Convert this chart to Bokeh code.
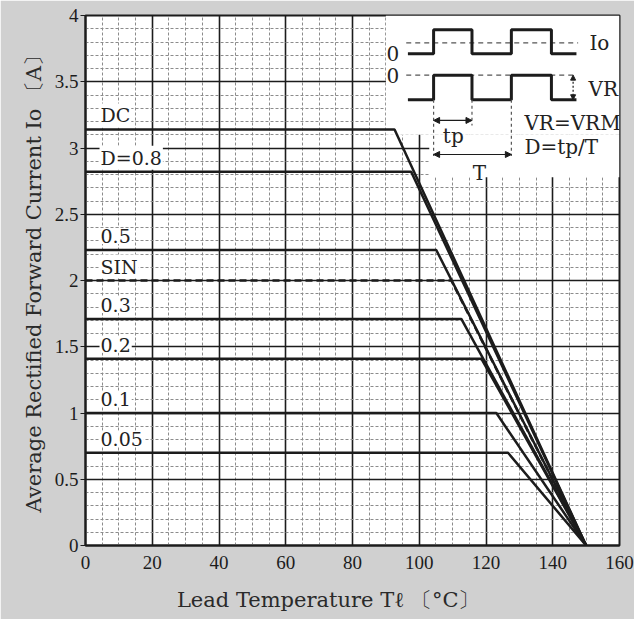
from bokeh.plotting import figure
from bokeh.models import FixedTicker, NumeralTickFormatter, Label, Arrow, NormalHead, Range1d
from bokeh.embed import file_html
from bokeh.resources import INLINE

# ---- data ----
series_names = ["DC", "D=0.8", "0.5", "SIN", "0.3", "0.2", "0.1", "0.05"]
levels = [3.14, 2.82, 2.23, 2.00, 1.71, 1.41, 1.00, 0.70]       # Io [A] plateau
knee_temps = [92.6, 97.6, 105.1, 109.6, 112.6, 118.6, 123.1, 126.6]  # Tl [C] where derating starts
t_zero = 150.0                                                    # Tl where Io reaches 0
x_ticks = [0, 20, 40, 60, 80, 100, 120, 140, 160]
y_ticks = [0, 0.5, 1, 1.5, 2, 2.5, 3, 3.5, 4]
x_minor = list(range(0, 161, 5))
y_minor = [i / 10 for i in range(41)]

INK = "#1c1c1c"
SERIF = "DejaVu Serif"

p = figure(width=634, height=619, x_range=Range1d(0, 160), y_range=Range1d(0, 4),
           output_backend="svg", toolbar_location=None,
           min_border_left=85, min_border_right=15, min_border_top=15, min_border_bottom=74)
p.border_fill_color = "#d0d0d0"
p.background_fill_color = "white"
p.outline_line_color = INK
p.outline_line_width = 2

xt = FixedTicker(ticks=x_ticks, minor_ticks=x_minor)
yt = FixedTicker(ticks=y_ticks, minor_ticks=y_minor)
p.xaxis.ticker = xt
p.yaxis.ticker = yt
p.xgrid.ticker = xt
p.ygrid.ticker = yt
for g in (p.xgrid, p.ygrid):
    g.grid_line_color = INK
    g.grid_line_width = 1.6
    g.minor_grid_line_color = "#8c8c8c"
    g.minor_grid_line_dash = "3 2"
    g.minor_grid_line_width = 1

p.yaxis.formatter = NumeralTickFormatter(format="0.[0]")
for ax in (p.xaxis, p.yaxis):
    ax.axis_line_color = INK
    ax.axis_line_width = 2
    ax.minor_tick_line_color = None
    ax.major_label_text_font = "Liberation Serif"
    ax.major_label_text_font_size = "19px"
    ax.major_label_text_color = INK
    ax.axis_label_text_font = SERIF
    ax.axis_label_text_font_style = "normal"
    ax.axis_label_text_font_size = "21px"
    ax.axis_label_text_color = "#2a2a2a"
p.xaxis.major_tick_line_color = None
p.xaxis.major_label_standoff = 4
p.xaxis.axis_label_standoff = 16
p.yaxis.major_tick_out = 5
p.yaxis.major_tick_in = 0
p.yaxis.major_tick_line_color = INK
p.yaxis.major_label_standoff = 2
p.yaxis.axis_label_standoff = 6
p.xaxis.axis_label = "Lead Temperature  T\u2113 \u3014\u00b0C\u3015\u2003\u2003"
p.yaxis.axis_label = "\u2002Average Rectified Forward Current  Io \u3014A\u3015"

# ---- inset background (covers the grid) ----
p.quad(left=[90, 103], right=[160, 160], bottom=[3.1, 2.78], top=[4, 3.1],
       fill_color="white", line_color=None)

# ---- derating curves ----
for name, lev, knee in zip(series_names, levels, knee_temps):
    dash = "7 4" if name == "SIN" else "solid"
    p.line([0, knee, t_zero], [lev, lev, 0], line_color=INK, line_width=2.5, line_dash=dash)
    p.add_layout(Label(x=4.2, y=lev, y_offset=14, text=name, text_font=SERIF,
                       text_font_size="19px", text_color="#222", text_baseline="middle",
                       background_fill_color="white", padding=1))

# ---- inset waveform illustration ----
def square(x0, edges, x1, low, high, start_high=False):
    xs, ys = [x0], [high if start_high else low]
    state = start_high
    for e in edges:
        xs += [e, e]
        ys += [high if state else low, low if state else high]
        state = not state
    xs.append(x1)
    ys.append(high if state else low)
    return xs, ys

edges = [104.3, 115.8, 127.6, 139.6]
xs, ys = square(96.6, edges, 147.1, 3.711, 3.892)
p.line([96.1, 147.6], [3.794, 3.794], line_color="#555", line_width=1.2, line_dash="5 4")
p.line(xs, ys, line_color=INK, line_width=3)
xs, ys = square(96.6, edges, 147.1, 3.364, 3.55)
p.line([96.1, 147.1], [3.55, 3.55], line_color="#555", line_width=1.2, line_dash="5 4")
p.line(xs, ys, line_color=INK, line_width=3)

for xv, ylo in ((104.3, 2.94), (115.8, 3.17), (127.6, 2.94)):
    p.line([xv, xv], [3.364, ylo], line_color="#555", line_width=1.2, line_dash="3 3")

p.add_layout(Arrow(x_start=104.3, y_start=3.208, x_end=115.8, y_end=3.208, line_width=1.2,
                   line_color=INK, start=NormalHead(size=6, fill_color=INK, line_color=INK),
                   end=NormalHead(size=6, fill_color=INK, line_color=INK)))
p.add_layout(Arrow(x_start=104.3, y_start=2.951, x_end=127.6, y_end=2.951, line_width=1.2,
                   line_color=INK, start=NormalHead(size=6, fill_color=INK, line_color=INK),
                   end=NormalHead(size=6, fill_color=INK, line_color=INK)))
p.add_layout(Arrow(x_start=146.1, y_start=3.364, x_end=146.1, y_end=3.55, line_width=1.2,
                   line_color=INK, line_dash="2 2",
                   start=NormalHead(size=5, fill_color=INK, line_color=INK),
                   end=NormalHead(size=5, fill_color=INK, line_color=INK)))

def lab(x, y, t, align="left", size="20px"):
    p.add_layout(Label(x=x, y=y, text=t, text_font=SERIF, text_font_size=size,
                       text_color="#222", text_align=align, text_baseline="middle"))

lab(92.1, 3.711, "0", "center")
lab(92.1, 3.55, "0", "center")
lab(151.0, 3.794, "Io")
lab(150.7, 3.449, "VR")
lab(131.5, 3.192, "VR=VRM")
lab(131.5, 3.004, "D=tp/T")
lab(110.2, 3.094, "tp", "center")
lab(118.0, 2.808, "T", "center")

open("out.html", "w").write(file_html(p, INLINE))
